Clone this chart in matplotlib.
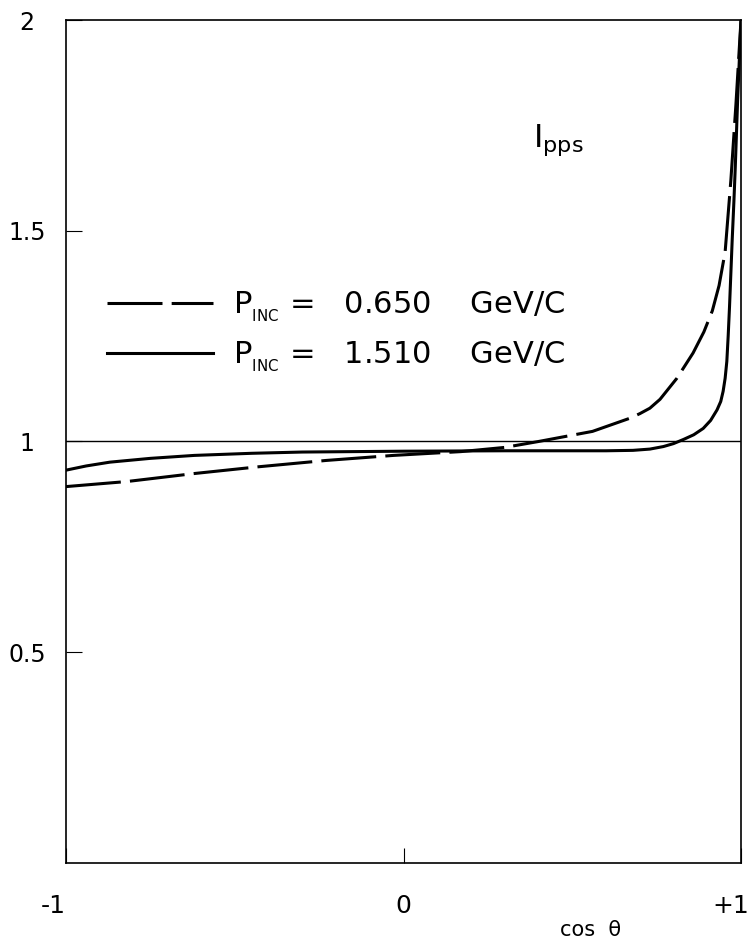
import matplotlib
matplotlib.use("Agg")
import matplotlib.pyplot as plt
from matplotlib.transforms import ScaledTranslation

plt.rcParams['font.family'] = ['DejaVu Sans']
plt.rcParams['mathtext.fontset'] = 'dejavusans'

# curves (cos theta, I_pps)
cos_lo = [-1.0, -0.82, -0.62, -0.43, -0.23, -0.03, 0.17, 0.3, 0.4, 0.56, 0.67, 0.70,
          0.73, 0.76, 0.81, 0.858, 0.89, 0.915, 0.935, 0.953, 0.964, 0.97, 0.985, 1.0]
ipps_lo = [0.893, 0.905, 0.924, 0.94, 0.955, 0.967, 0.976, 0.986, 1.0, 1.024, 1.055, 1.066,
           1.079, 1.10, 1.15, 1.21, 1.26, 1.31, 1.37, 1.45, 1.56, 1.62, 1.80, 2.0]

cos_hi = [-1.0, -0.94, -0.87, -0.75, -0.62, -0.45, -0.3, 0.0, 0.3, 0.6, 0.68, 0.73, 0.77, 0.80,
          0.83, 0.86, 0.888, 0.91, 0.929, 0.94, 0.947, 0.953, 0.958, 0.962, 0.966, 0.970,
          0.974, 0.979, 0.983, 0.99, 1.0]
ipps_hi = [0.932, 0.942, 0.951, 0.960, 0.967, 0.972, 0.975, 0.977, 0.978, 0.978, 0.979, 0.982, 0.988, 0.995,
           1.005, 1.016, 1.031, 1.05, 1.075, 1.095, 1.119, 1.15, 1.19, 1.25, 1.32, 1.40,
           1.48, 1.57, 1.65, 1.81, 2.0]

labels = [r'P$_{_\mathrm{INC}}$ =   0.650    GeV/C',
          r'P$_{_\mathrm{INC}}$ =   1.510    GeV/C']
xticks = [-1, 0, 1]
xtick_labels = ['-1', '0', '+1']
yticks = [0.5, 1, 1.5, 2]
ytick_labels = ['0.5', '1', '1.5', '2']

fig = plt.figure(figsize=(7.52, 9.46), dpi=100)
ax = fig.add_axes([66 / 752, 83 / 946, 675 / 752, 843 / 946])

ax.axhline(1, color='black', lw=1.0)
ax.plot(cos_lo, ipps_lo, color='black', lw=2.2, dashes=(18, 3), label=labels[0])
ax.plot(cos_hi, ipps_hi, color='black', lw=2.2, label=labels[1])

ax.set_xlim(-1, 1)
ax.set_ylim(0, 2)
for s in ax.spines.values():
    s.set_linewidth(1.2)

ax.set_xticks(xticks, xtick_labels)
ax.set_yticks(yticks, ytick_labels)
ax.tick_params(axis='x', direction='in', length=11, width=0.8, pad=22, labelsize=18)
ax.tick_params(axis='y', direction='in', length=11.5, width=0.8, pad=28, labelsize=17)
for lab in ax.get_yticklabels():
    lab.set_horizontalalignment('center')

# end labels sit at the corners, as in the original
xl = ax.get_xticklabels()
xl[0].set_horizontalalignment('right')
xl[-1].set_horizontalalignment('right')
xl[-1].set_transform(xl[-1].get_transform() + ScaledTranslation(8 / 100, 0, fig.dpi_scale_trans))

ax.text(0.384, 1.70, r'I$_{\mathrm{pps}}$', fontsize=23)

ax.legend(loc='center left', bbox_to_anchor=(0.0607, 0.630), frameon=False,
          fontsize=22, handlelength=3.47, handletextpad=0.66, labelspacing=0.5,
          borderpad=0, borderaxespad=0)

fig.text(591 / 752, 1 - 930 / 946, 'cos  θ', ha='center', va='center', fontsize=15)

fig.savefig('out.png', dpi=100)
